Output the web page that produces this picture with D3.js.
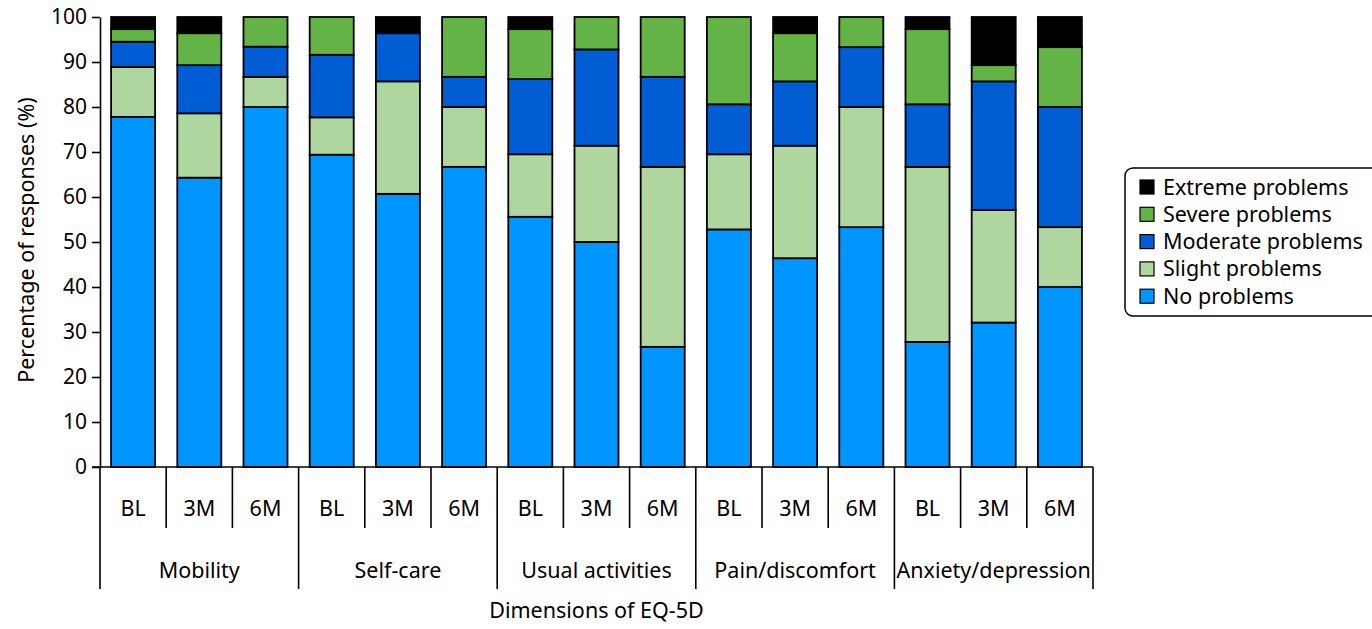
<!DOCTYPE html>
<html>
<head>
<meta charset="utf-8">
<script src="https://cdn.jsdelivr.net/npm/d3@7"></script>
<style>
  body { margin: 0; background: #fff; }
  svg text { font-family: "Noto Sans", sans-serif; fill: #000; }
</style>
</head>
<body>
<svg width="1372" height="629"></svg>
<script>
// data
var groups = ["Mobility", "Self-care", "Usual activities", "Pain/discomfort", "Anxiety/depression"];
var times = ["BL", "3M", "6M"];
var seriesNames = ["No problems", "Slight problems", "Moderate problems", "Severe problems", "Extreme problems"];
var noProblems = [77.8, 64.3, 80.0, 69.4, 60.7, 66.7, 55.6, 50.0, 26.7, 52.8, 46.4, 53.3, 27.8, 32.1, 40.0];
var slight     = [11.1, 14.3, 6.7, 8.3, 25.0, 13.3, 13.9, 21.4, 40.0, 16.7, 25.0, 26.7, 38.9, 25.0, 13.3];
var moderate   = [5.6, 10.7, 6.7, 13.9, 10.7, 6.7, 16.7, 21.4, 20.0, 11.1, 14.3, 13.3, 13.9, 28.6, 26.7];
var severe     = [2.8, 7.1, 6.6, 8.4, 0, 13.3, 11.1, 7.2, 13.3, 19.4, 10.7, 6.7, 16.7, 3.6, 13.3];
var extreme    = [2.7, 3.6, 0, 0, 3.6, 0, 2.7, 0, 0, 0, 3.6, 0, 2.7, 10.7, 6.7];
var yTicks = [0, 10, 20, 30, 40, 50, 60, 70, 80, 90, 100];
var colors = ["#0095ff", "#b0d6a0", "#005dd3", "#63b346", "#000000"];

var svg = d3.select("svg");
var margin = {left: 100, top: 17, right: 279, bottom: 162};
var width = 1372 - margin.left - margin.right,
    height = 629 - margin.top - margin.bottom;
var fs = "21.5px";

// rows: one per bar
var rows = [];
for (var i = 0; i < noProblems.length; i++) {
  rows.push({
    key: i,
    group: groups[Math.floor(i / 3)],
    time: times[i % 3],
    "No problems": noProblems[i],
    "Slight problems": slight[i],
    "Moderate problems": moderate[i],
    "Severe problems": severe[i],
    "Extreme problems": extreme[i]
  });
}

var x = d3.scaleBand()
  .domain(rows.map(function(d) { return d.key; }))
  .range([0, width])
  .paddingInner(0.335)
  .paddingOuter(0.1675);
var y = d3.scaleLinear().domain([0, 100]).range([height, 0]);
var color = d3.scaleOrdinal().domain(seriesNames).range(colors);

var stack = d3.stack().keys(seriesNames);
var stacked = stack(rows);

var g = svg.append("g").attr("transform", "translate(" + margin.left + "," + margin.top + ")");

// bars
g.selectAll(".layer")
  .data(stacked)
  .enter().append("g")
    .attr("class", "layer")
    .attr("fill", function(d) { return color(d.key); })
  .selectAll("rect")
  .data(function(d) { return d.filter(function(s) { return s[1] - s[0] > 0; }); })
  .enter().append("rect")
    .attr("x", function(d) { return x(d.data.key); })
    .attr("y", function(d) { return y(d[1]); })
    .attr("width", x.bandwidth())
    .attr("height", function(d) { return y(d[0]) - y(d[1]); })
    .attr("stroke", "#000")
    .attr("stroke-width", 1.8);

// y axis
var yAxis = g.append("g")
  .call(d3.axisLeft(y).tickValues(yTicks).tickSize(8).tickPadding(5).tickSizeOuter(0));
yAxis.select(".domain").attr("stroke-width", 1.6);
yAxis.selectAll(".tick line").attr("stroke-width", 1.6);
yAxis.selectAll("text").style("font-size", "21px");

// x axis baseline
g.append("line")
  .attr("x1", -8).attr("x2", width)
  .attr("y1", height).attr("y2", height)
  .attr("stroke", "#000").attr("stroke-width", 1.6);

// bar separators (first row), group separators go down further
var step = x.step();
for (var k = 0; k <= rows.length; k++) {
  var full = (k % 3 === 0);
  g.append("line")
    .attr("x1", k * step).attr("x2", k * step)
    .attr("y1", height).attr("y2", height + (full ? 122 : 61))
    .attr("stroke", "#000").attr("stroke-width", 1.6);
}

// time labels
g.selectAll(".time-label")
  .data(rows)
  .enter().append("text")
    .attr("class", "time-label")
    .attr("x", function(d) { return x(d.key) + x.bandwidth() / 2; })
    .attr("y", height + 49)
    .attr("text-anchor", "middle")
    .style("font-size", fs)
    .text(function(d) { return d.time; });

// group labels
g.selectAll(".group-label")
  .data(groups)
  .enter().append("text")
    .attr("class", "group-label")
    .attr("x", function(d, i) { return (i * 3 + 1.5) * step; })
    .attr("y", height + 111)
    .attr("text-anchor", "middle")
    .style("font-size", fs)
    .text(function(d) { return d; });

// axis titles
g.append("text")
  .attr("x", width / 2)
  .attr("y", height + 151)
  .attr("text-anchor", "middle")
  .style("font-size", fs)
  .text("Dimensions of EQ-5D");

g.append("text")
  .attr("transform", "rotate(-90)")
  .attr("x", -height / 2 + 2)
  .attr("y", -66)
  .attr("text-anchor", "middle")
  .style("font-size", fs)
  .text("Percentage of responses (%)");

// legend
var legend = svg.append("g").attr("transform", "translate(1125,168)");
legend.append("rect")
  .attr("x", 0).attr("y", 0)
  .attr("width", 262).attr("height", 148)
  .attr("rx", 8)
  .attr("fill", "#fff").attr("stroke", "#000").attr("stroke-width", 1.5);
var items = legend.selectAll(".item")
  .data(seriesNames.slice().reverse())
  .enter().append("g")
    .attr("class", "item")
    .attr("transform", function(d, i) { return "translate(15," + (12 + i * 27.3) + ")"; });
items.append("rect")
  .attr("width", 14).attr("height", 14)
  .attr("fill", function(d) { return color(d); })
  .attr("stroke", "#000").attr("stroke-width", 1.2);
items.append("text")
  .attr("x", 23).attr("y", 14.5)
  .style("font-size", fs)
  .text(function(d) { return d; });
</script>
</body>
</html>
